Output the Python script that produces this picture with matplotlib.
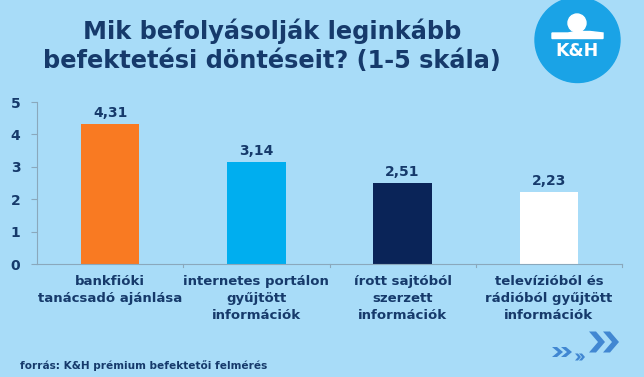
import matplotlib.pyplot as plt
from matplotlib.patches import Circle, Polygon

categories = ["bankfióki\ntanácsadó ajánlása",
              "internetes portálon\ngyűjtött\ninformációk",
              "írott sajtóból\nszerzett\ninformációk",
              "televízióból és\nrádióból gyűjtött\ninformációk"]
values = [4.31, 3.14, 2.51, 2.23]
value_labels = ["4,31", "3,14", "2,51", "2,23"]
bar_colors = ["#f97a22", "#00aeef", "#0a2458", "#ffffff"]

bg = "#a8dcf8"
navy = "#163a6b"
axis_col = "#8aa8bc"
chev_col = "#4187d2"

fig = plt.figure(figsize=(6.44, 3.77), dpi=100, facecolor=bg)
ax = fig.add_axes([37 / 644, 1 - 264 / 377, (622 - 37) / 644, (264 - 102) / 377])
ax.set_facecolor(bg)

x = range(len(values))
ax.bar(x, values, width=0.4, color=bar_colors)
for i, v in enumerate(values):
    ax.text(i, v + 0.12, value_labels[i], ha="center", va="bottom",
            fontsize=10, fontweight="bold", color=navy)

ax.set_xlim(-0.5, 3.5)
ax.set_ylim(0, 5)
ax.set_yticks([0, 1, 2, 3, 4, 5])
ax.set_xticks([])
for s in ["top", "right"]:
    ax.spines[s].set_visible(False)
ax.spines["left"].set_color(axis_col)
ax.spines["bottom"].set_color(axis_col)
ax.tick_params(axis="y", colors=axis_col, labelcolor=navy, length=4, pad=8)
for lab in ax.get_yticklabels():
    lab.set_fontweight("bold")
    lab.set_fontsize(10)
# category separator ticks
for b in [0.5, 1.5, 2.5, 3.5]:
    ax.plot([b, b], [0, -0.1], color=axis_col, lw=0.8, clip_on=False)
for i, c in enumerate(categories):
    ax.text(i, -0.33, c, ha="center", va="top", fontsize=9.5,
            fontweight="bold", color=navy, linespacing=1.4)

fig.text(272 / 644, 1 - 46 / 377, "Mik befolyásolják leginkább\nbefektetési döntéseit? (1-5 skála)",
         ha="center", va="center", fontsize=17.3, fontweight="bold", color=navy,
         linespacing=1.25)

fig.text(20 / 644, 1 - 366 / 377, "forrás: K&H prémium befektetői felmérés",
         ha="left", va="center", fontsize=7.6, fontweight="bold", color=navy)

# logo and decorations in pixel coordinates
deco = fig.add_axes([0, 0, 1, 1], facecolor="none")
deco.set_xlim(0, 644)
deco.set_ylim(377, 0)
deco.axis("off")
deco.add_patch(Circle((577.5, 40), 42.5, color="#1aa3e6"))
deco.add_patch(Circle((577, 23), 9, color="white"))
deco.add_patch(Polygon([[552, 33], [568, 33], [576, 31.5], [590, 31.5], [603, 33],
                        [603, 38.5], [552, 38.5]], color="white"))
deco.text(577.5, 50.5, "K&H", ha="center", va="center", fontsize=12.5,
          fontweight="bold", color="white")


def chevrons(x0, yc, h, t, w, gap):
    for k in range(2):
        xs = x0 + k * gap
        pts = [[xs, yc - h / 2], [xs + t, yc - h / 2], [xs + t + w, yc],
               [xs + t, yc + h / 2], [xs, yc + h / 2], [xs + w, yc]]
        deco.add_patch(Polygon(pts, closed=True, color=chev_col, lw=0))


chevrons(552, 352, 10, 5, 6, 9)
chevrons(575, 357, 7, 3, 3, 4)
chevrons(589, 342, 21, 7, 9, 14)

fig.savefig("out.png", dpi=100, facecolor=bg)
